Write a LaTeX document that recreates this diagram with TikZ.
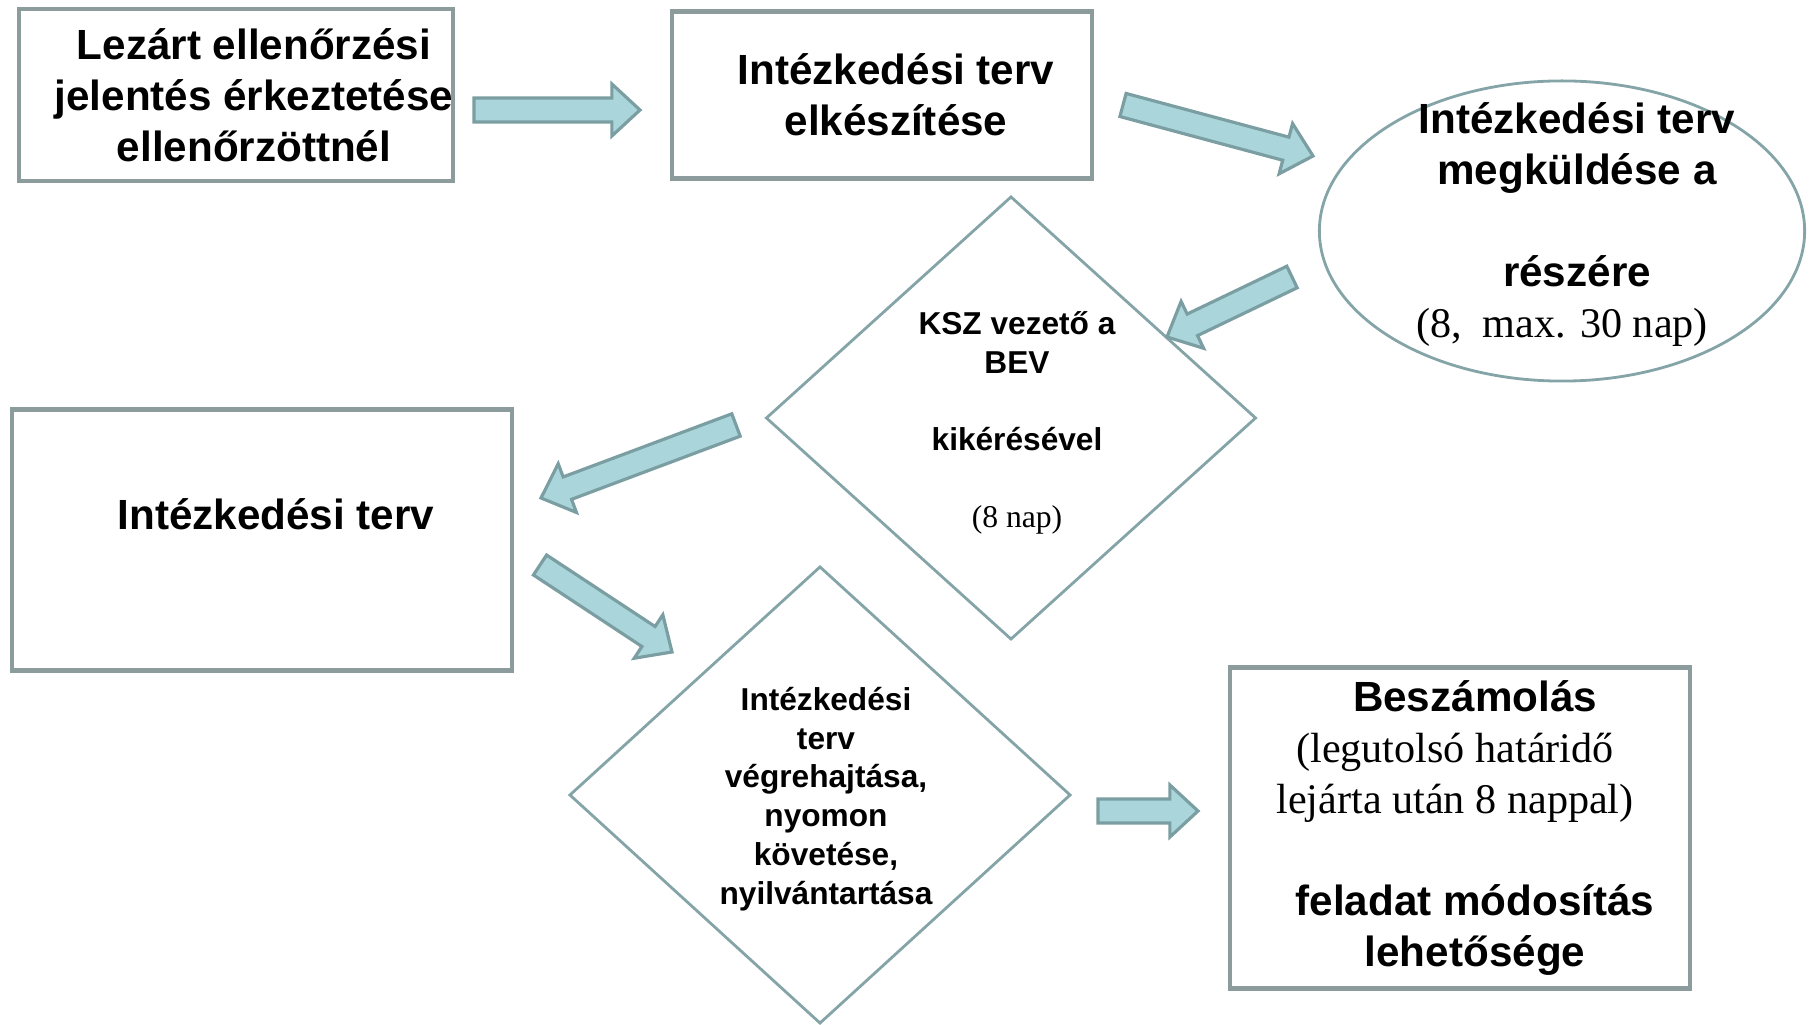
\documentclass[tikz,border=0pt]{standalone}
\usepackage{fontspec}
\setmainfont{Liberation Sans}
\newfontfamily\tnr{Liberation Serif}
\usetikzlibrary{positioning,shapes.geometric,calc}

\definecolor{framegray}{RGB}{140,156,157}
\definecolor{edgeteal}{RGB}{132,164,167}
\definecolor{arrowfill}{RGB}{170,213,218}
\definecolor{arrowedge}{RGB}{122,158,162}

% block arrow between two named coordinates
\newcommand\flowarrow[2]{%
  \coordinate (hb) at ($(#2)!8pt!(#1)$);
  \draw[flow] ($(#1)!3.4pt!90:(#2)$) -- ($(hb)!3.4pt!90:(#2)$) -- ($(hb)!7.4pt!90:(#2)$) -- (#2)
    -- ($(hb)!7.4pt!-90:(#2)$) -- ($(hb)!3.4pt!-90:(#2)$) -- ($(#1)!3.4pt!-90:(#2)$) -- cycle;
}

\begin{document}
\begin{tikzpicture}[x=0.01cm, y=-0.01cm,
    nodes={align=center, font=\bfseries\fontsize{12}{14.5}\selectfont},
    box/.style={draw=framegray, line width=1.2pt, inner sep=0pt},
    decision/.style={diamond, draw=edgeteal, line width=0.8pt, inner sep=0pt},
    small/.style={font=\bfseries\fontsize{9}{11}\selectfont},
    flow/.style={fill=arrowfill, draw=arrowedge, line width=0.9pt, line join=miter}]

    \useasboundingbox (0,0) rectangle (1812,1025);

    % steps
    \node (arrival) [box, minimum width=4.33cm, minimum height=1.72cm,
        label={[xshift=0.18cm]center:{Lezárt ellenőrzési\\jelentés érkeztetése\\ellenőrzöttnél}}] at (236,95) {};
    \node (drafting) [box, minimum width=4.19cm, minimum height=1.67cm,
        label={[xshift=0.14cm]center:{Intézkedési terv\\elkészítése}}] at (882,95) {};
    \node (sending) [ellipse, draw=edgeteal, line width=0.8pt, minimum width=4.85cm, minimum height=3cm,
        label={[xshift=0.15cm, yshift=0.06cm]center:{Intézkedési terv\\megküldése a\\~\\részére\\{\tnr\mdseries (8,\ \ max. 30 nap)\kern0.3cm\relax}}}] at (1562,231) {};
    \node (approval) [decision, minimum width=4.9cm, minimum height=4.43cm,
        label={[small, xshift=0.06cm, yshift=-0.05cm]center:{KSZ vezető a\\BEV\\~\\kikérésével\\~\\{\tnr\mdseries (8 nap)}}}] at (1011,418) {};
    \node (plan) [box, minimum width=4.99cm, minimum height=2.61cm,
        label={[xshift=0.14cm, yshift=0.26cm]center:Intézkedési terv}] at (262,540) {};
    \node (execution) [decision, minimum width=5.01cm, minimum height=4.57cm,
        label={[small, xshift=0.06cm, yshift=-0.04cm]center:{Intézkedési\\terv\\végrehajtása,\\nyomon\\követése,\\nyilvántartása}}] at (820,795) {};
    \node (report) [box, minimum width=4.6cm, minimum height=3.21cm,
        label={[xshift=0.15cm]center:{Beszámolás\\{\tnr\mdseries (legutolsó határidő\kern0.4cm\relax}\\{\tnr\mdseries lejárta után 8 nappal)\kern0.4cm\relax}\\~\\feladat módosítás\\lehetősége}}] at (1460,828) {};

    % arrow ends
    \coordinate (t1) at (474,110);  \coordinate (h1) at (640,110);
    \coordinate (t2) at (1123,105); \coordinate (h2) at (1313,156);
    \coordinate (t3) at (1292,277); \coordinate (h3) at (1167,337);
    \coordinate (t4) at (736,425);  \coordinate (h4) at (541,498);
    \coordinate (t5) at (540,565);  \coordinate (h5) at (672,652);
    \coordinate (t6) at (1098,811); \coordinate (h6) at (1198,811);

    \flowarrow{t1}{h1}
    \flowarrow{t2}{h2}
    \flowarrow{t3}{h3}
    \flowarrow{t4}{h4}
    \flowarrow{t5}{h5}
    \flowarrow{t6}{h6}
\end{tikzpicture}
\end{document}
